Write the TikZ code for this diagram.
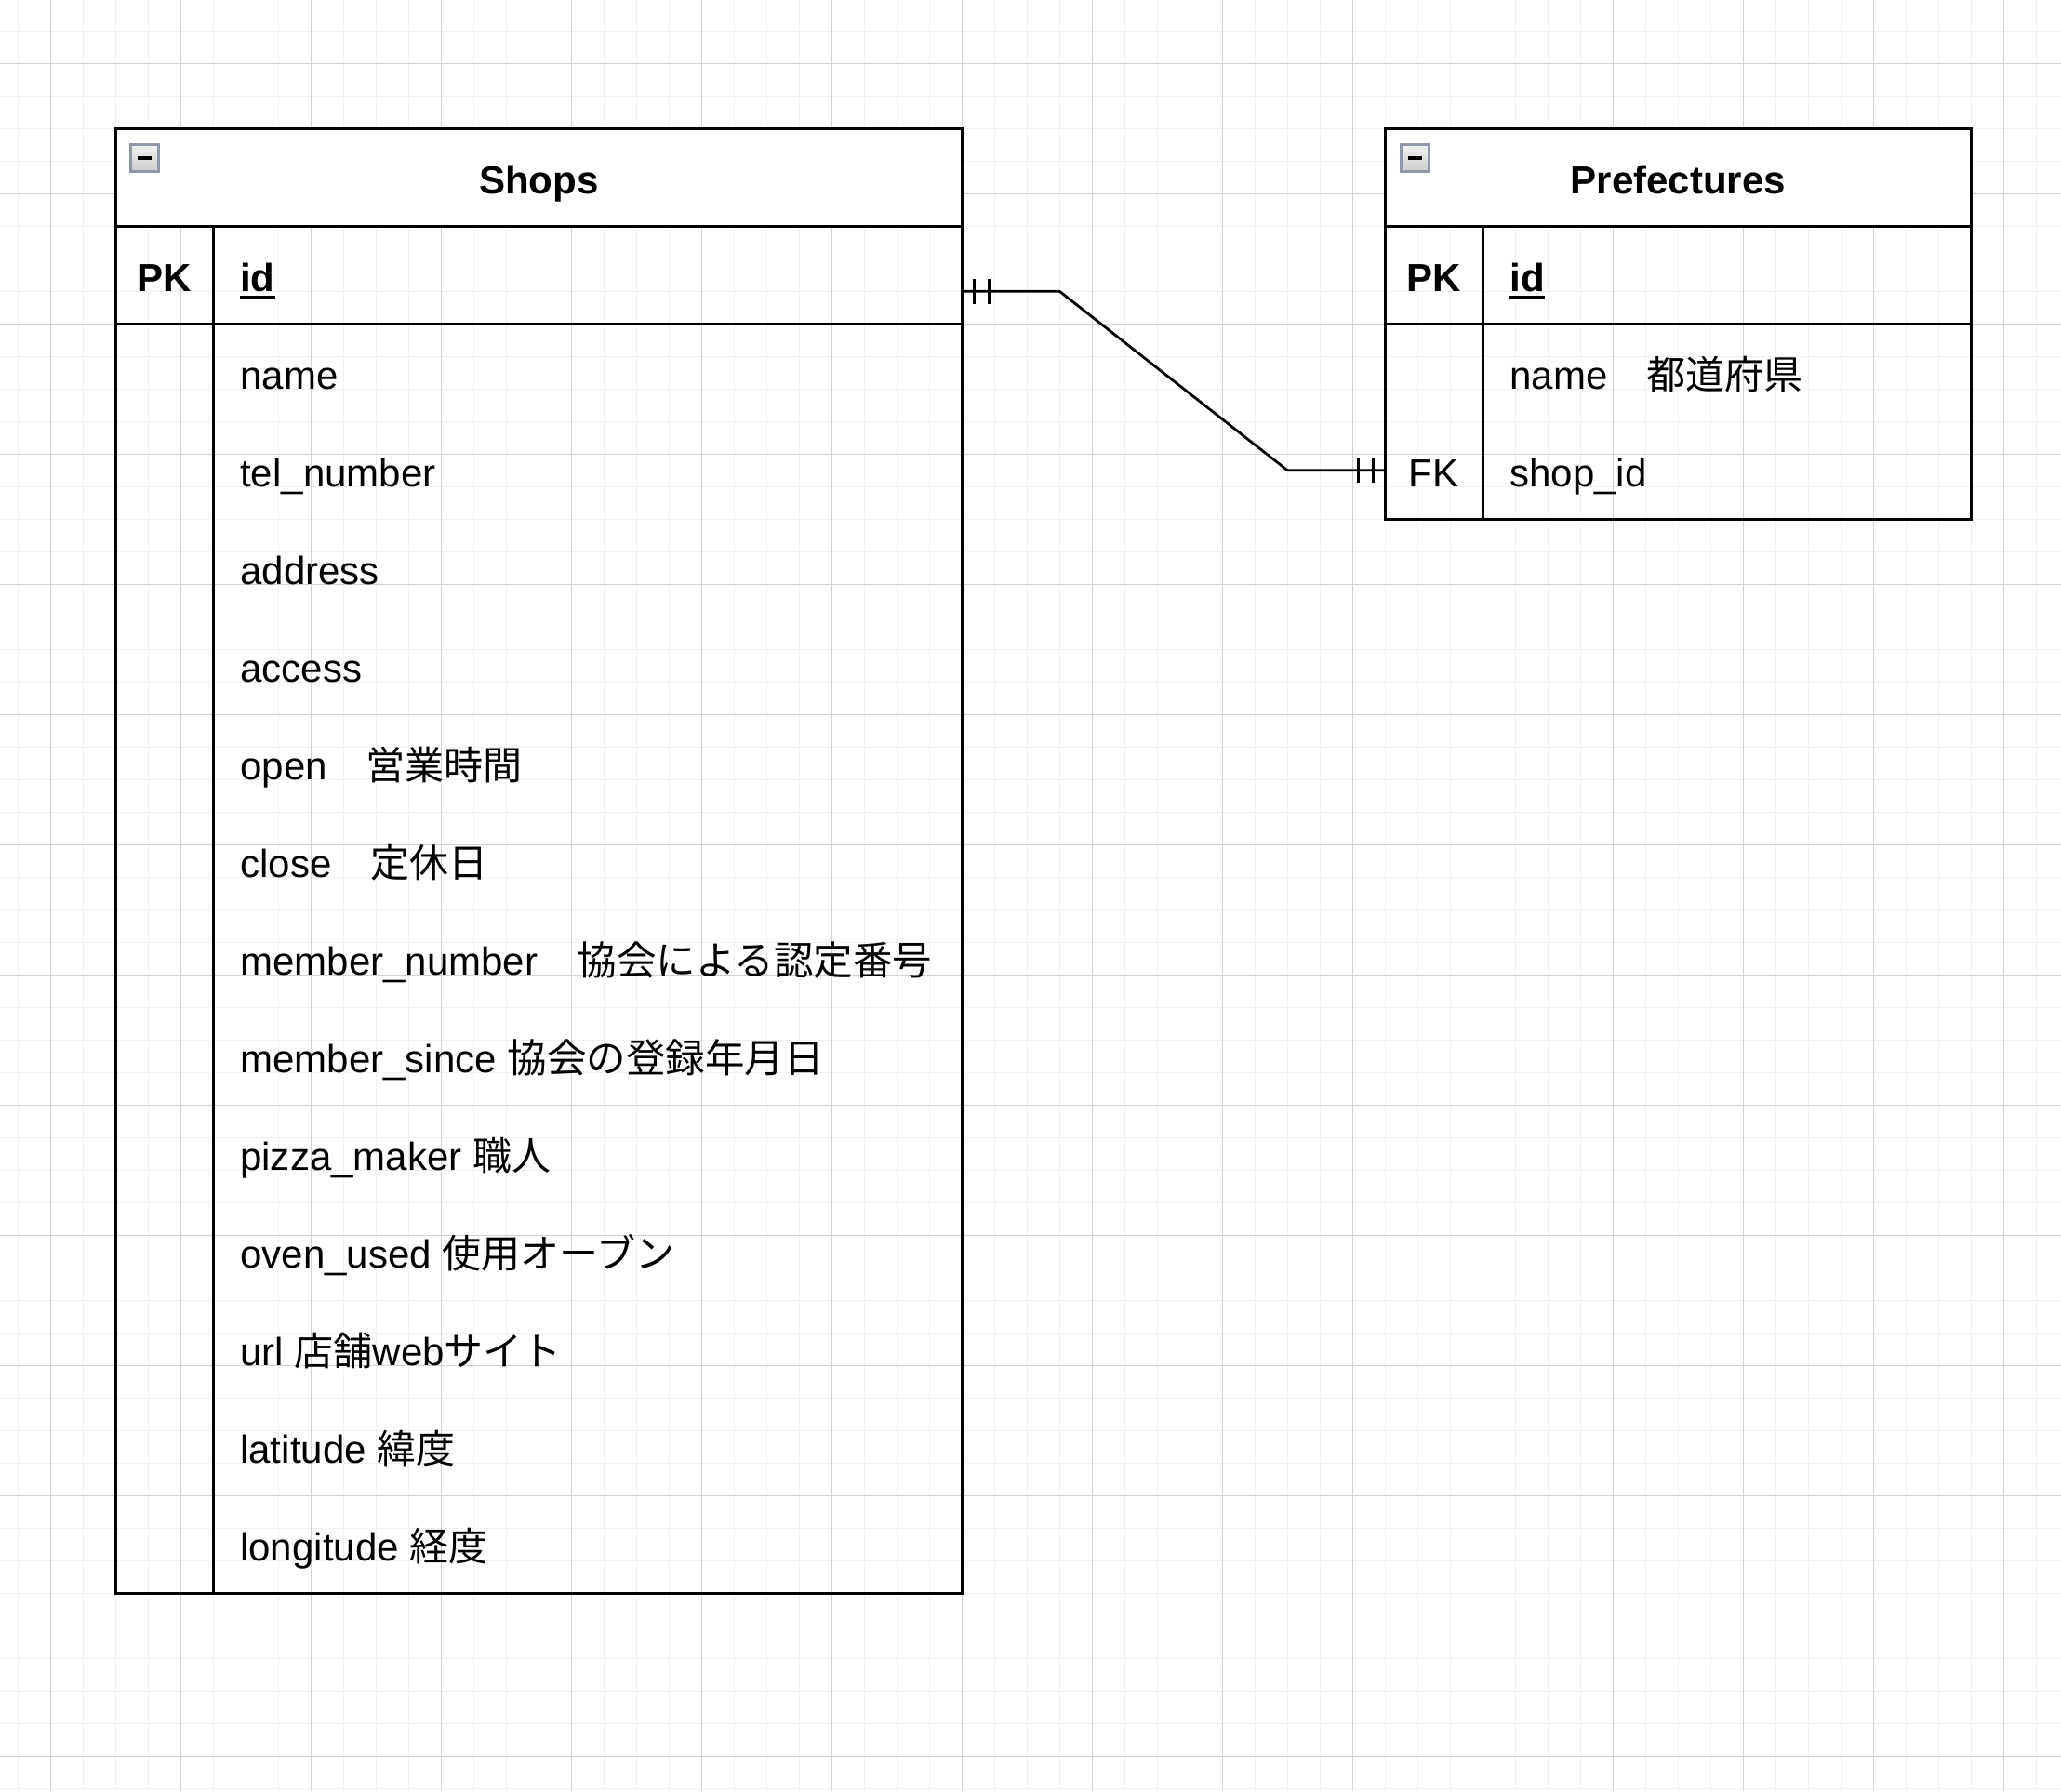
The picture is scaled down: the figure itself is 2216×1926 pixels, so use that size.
\documentclass[tikz,border=0pt]{standalone}
\usepackage{fontspec}
\setmainfont{Liberation Sans}
\newfontfamily\jp{Noto Sans CJK JP}
\usetikzlibrary{calc,shadings}
\definecolor{gridminor}{HTML}{F1F1F1}
\definecolor{gridmajor}{HTML}{D2D2D2}
\definecolor{iconborder}{HTML}{8E98A9}
\newcommand{\jpa}[1]{{\jp #1}}
\newcommand{\jpb}[1]{{\jp\fontsize{12.1pt}{15pt}\selectfont #1}}
\begin{document}
\begin{tikzpicture}[x=0.1mm,y=-0.1mm,
  gminor/.style={draw=gridminor,line width=0.16mm},
  gmajor/.style={draw=gridmajor,line width=0.13mm},
  tbl/.style={draw=black,line width=0.28mm,inner sep=0,outer sep=0,anchor=north west},
  rowbox/.style={inner sep=0,outer sep=0,anchor=north west},
  tline/.style={draw=black,line width=0.28mm},
  conn/.style={draw=black,line width=0.28mm},
  txt/.style={inner sep=0,outer sep=0,anchor=base west,font=\fontsize{11.955pt}{14pt}\selectfont},
  txtb/.style={txt,font=\fontsize{11.955pt}{14pt}\selectfont\bfseries},
  keytxt/.style={txt,anchor=base},
  keytxtb/.style={txtb,anchor=base},
  ttl/.style={txtb,anchor=base},
  ul/.style={draw=black,line width=0.28mm},
  collapseicon/.style={draw=iconborder,line width=0.3mm,top color=white!95!black,bottom color=white!80!black,minimum size=2.94mm,inner sep=0,outer sep=0},
  iconbar/.style={draw=black,line width=0.4mm}
]
\useasboundingbox (0,0) rectangle (2216,1926);
\fill[white] (0,0) rectangle (2216,1926);
% grid
\foreach \k in {0,...,62} { \draw[gminor] (19.3+35*\k,0) -- (19.3+35*\k,1926); }
\foreach \k in {0,...,54} { \draw[gminor] (0,33.3+35*\k) -- (2216,33.3+35*\k); }
\foreach \k in {0,...,15} { \draw[gmajor] (54.3+140*\k,0) -- (54.3+140*\k,1926); }
\foreach \k in {0,...,13} { \draw[gmajor] (0,68.3+140*\k) -- (2216,68.3+140*\k); }

% ===== Shops table =====
\node[tbl,fill=white,minimum width=91mm,minimum height=10.5mm] (shopshead) at (124.3,138.3) {};
\node[tbl,minimum width=91mm,minimum height=157.5mm] (shops) at (124.3,138.3) {};
\node[tbl,minimum width=91mm,minimum height=10.5mm] (shopspk) at (124.3,243.3) {};
\draw[tline] ($(shopspk.north west)+(105,0)$) -- ($(shops.south west)+(105,0)$);
\node[collapseicon] (shopsicon) at (155.5,170) {};
\draw[iconbar] ([xshift=-0.78mm]shopsicon.center) -- ([xshift=0.78mm]shopsicon.center);
\node[ttl] (shopstitle) at (579.3,208.3) {Shops};
\node[keytxtb] (shopspklbl) at (176.8,313.3) {PK};
\node[txtb] (shopsid) at (258.3,313.3) {id};
\draw[ul] ([yshift=-0.65mm]shopsid.base west) -- ([yshift=-0.65mm]shopsid.base east);
\node[txt] (f0) at (258.3,418.3) {name};
\node[txt] (f1) at (258.3,523.3) {tel\_number};
\node[txt] (f2) at (258.3,628.3) {address};
\node[txt] (f3) at (258.3,733.3) {access};
\node[txt] (f4) at (258.3,838.3) {open\jpa{　営業時間}};
\node[txt] (f5) at (258.3,943.3) {close\jpa{　定休日}};
\node[txt] (f6) at (258.3,1048.3) {member\_number\jpb{　協会による認定番号}};
\node[txt] (f7) at (258.3,1153.3) {member\_since \jpb{協会の登録年月日}};
\node[txt] (f8) at (258.3,1258.3) {pizza\_maker \jpa{職人}};
\node[txt] (f9) at (258.3,1363.3) {oven\_used \jpa{使用オーブン}};
\node[txt] (f10) at (258.3,1468.3) {url \jpa{店舗}web\jpa{サイト}};
\node[txt] (f11) at (258.3,1573.3) {latitude \jpa{緯度}};
\node[txt] (f12) at (258.3,1678.3) {longitude \jpa{経度}};

% ===== Prefectures table =====
\node[tbl,fill=white,minimum width=63mm,minimum height=10.5mm] (prefhead) at (1489.3,138.3) {};
\node[tbl,minimum width=63mm,minimum height=42mm] (pref) at (1489.3,138.3) {};
\node[tbl,minimum width=63mm,minimum height=10.5mm] (prefpk) at (1489.3,243.3) {};
\node[rowbox,minimum width=63mm,minimum height=10.5mm] (prefname) at (1489.3,348.3) {};
\node[rowbox,minimum width=63mm,minimum height=10.5mm] (preffk) at (1489.3,453.3) {};
\draw[tline] ($(prefpk.north west)+(105,0)$) -- ($(pref.south west)+(105,0)$);
\node[collapseicon] (preficon) at (1521.5,170) {};
\draw[iconbar] ([xshift=-0.78mm]preficon.center) -- ([xshift=0.78mm]preficon.center);
\node[ttl] (preftitle) at (1804.3,208.3) {Prefectures};
\node[keytxtb] (prefpklbl) at (1541.8,313.3) {PK};
\node[txtb] (prefid) at (1623.3,313.3) {id};
\draw[ul] ([yshift=-0.65mm]prefid.base west) -- ([yshift=-0.65mm]prefid.base east);
\node[txt] (pf0) at (1623.3,418.3) {name\jpa{　都道府県}};
\node[keytxt] (preffklbl) at (1541.8,523.3) {FK};
\node[txt] (pf1) at (1623.3,523.3) {shop\_id};

% ===== relation =====
\coordinate (cs) at ([yshift=-1.75mm]shopspk.east);
\coordinate (cp) at (preffk.west);
\draw[conn] (cs) -- ++(105,0) -- ([xshift=-10.5mm]cp) -- (cp);
\draw[conn] ($(cs)+(13,-13.5)$) -- ($(cs)+(13,13.5)$);
\draw[conn] ($(cs)+(29.5,-13.5)$) -- ($(cs)+(29.5,13.5)$);
\draw[conn] ($(cp)+(-12.5,-13.5)$) -- ($(cp)+(-12.5,13.5)$);
\draw[conn] ($(cp)+(-28.5,-13.5)$) -- ($(cp)+(-28.5,13.5)$);
\end{tikzpicture}
\end{document}
